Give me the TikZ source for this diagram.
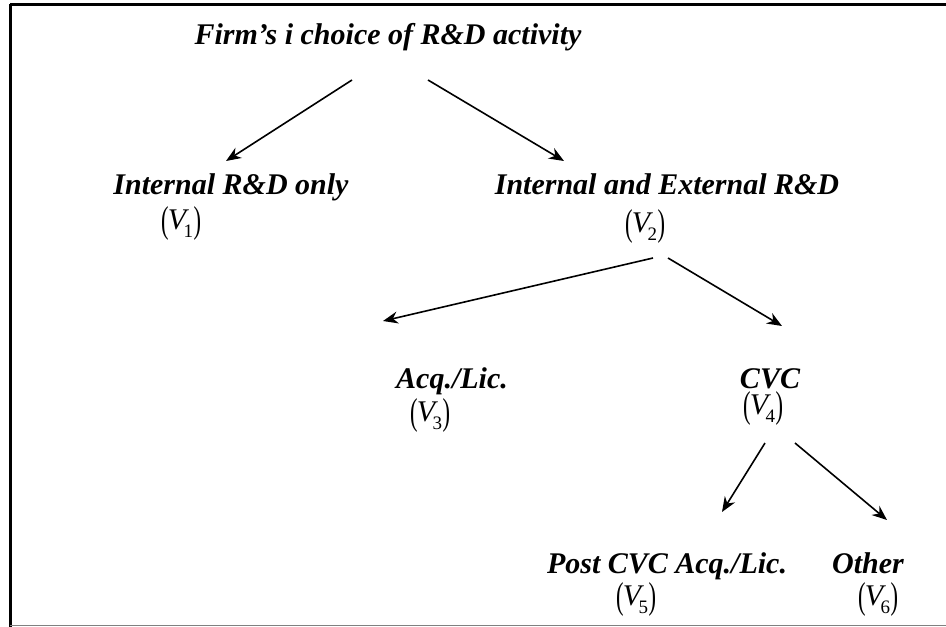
\documentclass[tikz,border=0pt]{standalone}
\usepackage{fontspec}
\usepackage{graphicx}
\setmainfont{Liberation Serif}
\usetikzlibrary{arrows.meta}
\tikzset{
  lab/.style={font=\fontsize{30}{34}\selectfont\bfseries\itshape, inner sep=0pt, anchor=base},
  vl/.style={font=\fontsize{30}{34}\selectfont, inner sep=0pt, anchor=center},
  arr/.style={line width=1.6pt, -{Stealth[length=15pt,width=12pt]}},
}
\newcommand\vparl{\raisebox{-0.1em}{\scalebox{0.75}[1.25]{(}}}
\newcommand\vparr{\raisebox{-0.1em}{\scalebox{0.75}[1.25]{)}}}
\newcommand\vlab[1]{\vparl\kern-0.02em\textit{V}\kern-0.18em\raisebox{-0.28em}{\fontsize{19}{19}\selectfont #1}\kern0.01em\vparr}
\begin{document}
\begin{tikzpicture}[x=1pt,y=-1pt]
\useasboundingbox (0,0) rectangle (946,627);
\draw[line width=2.5pt] (10,4.5) -- (946,4.5);
\draw[line width=3pt] (10.5,3.5) -- (10.5,627);
\draw[line width=1.5pt, gray] (10,625.5) -- (946,625.5);

\node[lab] (t) at (388,44) {Firm’s i choice of R\&D activity};
\node[lab] (n1) at (231,194) {Internal R\&D only};
\node[vl] (v1) at (181,223) {\vlab{1}};
\node[lab] (n2) at (667,194) {Internal and External R\&D};
\node[vl] (v2) at (645,226) {\vlab{2}};
\node[lab] (n3) at (452,388) {Acq./Lic.};
\node[vl] (v3) at (430,415) {\vlab{3}};
\node[lab] (n4) at (770,388) {CVC};
\node[vl] (v4) at (763,408) {\vlab{4}};
\node[lab] (n5) at (667,573) {Post CVC Acq./Lic.};
\node[vl] (v5) at (636,599) {\vlab{5}};
\node[lab] (n6) at (868,573) {Other};
\node[vl] (v6) at (878,599) {\vlab{6}};

\coordinate (a1s) at (352,80);  \coordinate (a1e) at (226,161);
\coordinate (a2s) at (428,80);  \coordinate (a2e) at (564,161);
\coordinate (a3s) at (653,258); \coordinate (a3e) at (383,321);
\coordinate (a4s) at (668,258); \coordinate (a4e) at (782,326);
\coordinate (a5s) at (765,443); \coordinate (a5e) at (722,512);
\coordinate (a6s) at (795,443); \coordinate (a6e) at (887,520);
\draw[arr] (a1s) -- (a1e);
\draw[arr] (a2s) -- (a2e);
\draw[arr] (a3s) -- (a3e);
\draw[arr] (a4s) -- (a4e);
\draw[arr] (a5s) -- (a5e);
\draw[arr] (a6s) -- (a6e);
\end{tikzpicture}
\end{document}
